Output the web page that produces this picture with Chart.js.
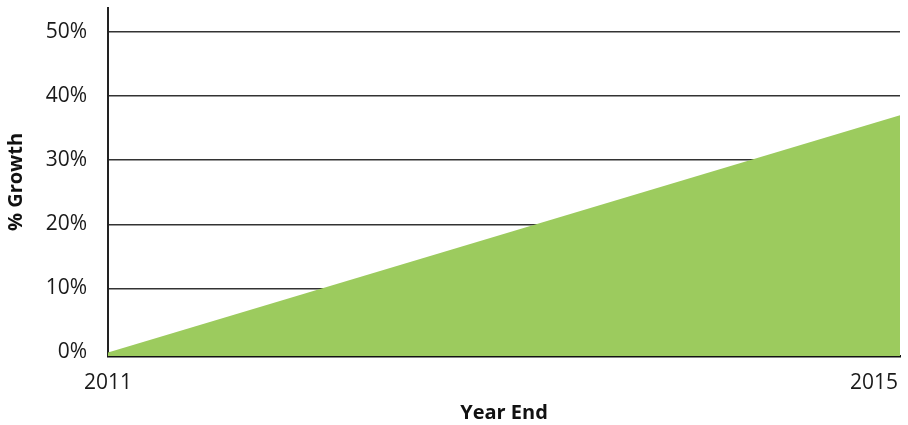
<!DOCTYPE html>
<html>
<head>
<meta charset="utf-8">
<script src="https://cdn.jsdelivr.net/npm/chart.js@4"></script>
<style>
  html, body { margin: 0; padding: 0; background: #fff; }
  #wrap { width: 908px; height: 425px; }
</style>
</head>
<body>
<div id="wrap"><canvas id="chart" width="908" height="425"></canvas></div>
<script>
/* ── data ── */
const years   = ['2011', '2015'];
const growth  = [0, 37];
const yTicks  = [0, 10, 20, 30, 40, 50];

const FONT = "'Open Sans', sans-serif";

// x labels: first centred on its point, last right-aligned to the plot edge
const xLabels = {
  id: 'xLabels',
  afterDraw(chart) {
    const { ctx, chartArea, scales } = chart;
    ctx.save();
    ctx.font = '21px ' + FONT;
    ctx.fillStyle = '#1a1a1a';
    ctx.textBaseline = 'middle';
    years.forEach((y, i) => {
      const x = scales.x.getPixelForValue(i);
      const last = i === years.length - 1;
      ctx.textAlign = last ? 'right' : 'center';
      ctx.fillText(y, last ? chartArea.right - 2 : x, 383);
    });
    ctx.restore();
  }
};

new Chart(document.getElementById('chart').getContext('2d'), {
  type: 'line',
  data: {
    labels: years,
    datasets: [{
      data: growth,
      fill: 'start',
      backgroundColor: '#9ccb5e',
      borderWidth: 0,
      pointRadius: 0,
      tension: 0
    }]
  },
  options: {
    responsive: false,
    animation: false,
    layout: { padding: { top: 8, right: 8, left: 0, bottom: 0 } },
    plugins: { legend: { display: false }, tooltip: { enabled: false } },
    scales: {
      x: {
        type: 'category',
        offset: false,
        grid: { display: false, drawTicks: false },
        border: { display: true, color: '#111', width: 2.5 },
        ticks: { display: false },
        title: {
          display: true, text: 'Year End', color: '#111',
          font: { family: FONT, size: 20, weight: 'bold' },
          padding: { top: 0, bottom: 0 }
        },
        afterFit: s => { s.height = 69; }
      },
      y: {
        min: -0.55,
        max: 53.75,
        z: 1,
        afterBuildTicks: s => { s.ticks = yTicks.map(v => ({ value: v })); },
        grid: { color: '#333', lineWidth: 1.5, drawTicks: false },
        border: { display: true, color: '#222', width: 2 },
        ticks: {
          color: '#1a1a1a', padding: 21,
          font: { family: FONT, size: 21 },
          callback: v => v + '%'
        },
        title: {
          display: true, text: '% Growth', color: '#111',
          font: { family: FONT, size: 20, weight: 'bold' },
          padding: { top: 4, bottom: 0 }
        },
        afterFit: s => { s.width = 108; s.paddingTop = 0; s.paddingBottom = 0; }
      }
    }
  },
  plugins: [xLabels]
});
</script>
</body>
</html>
